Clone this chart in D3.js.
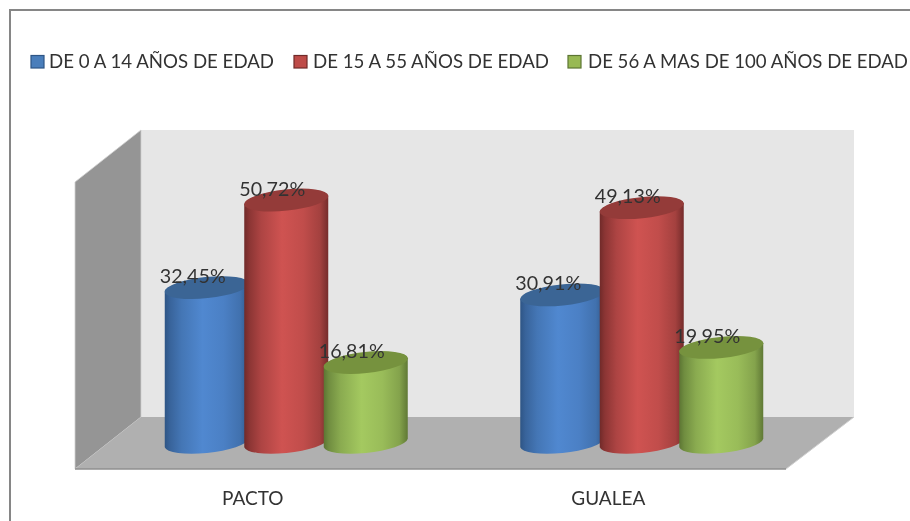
<!DOCTYPE html>
<html><head><meta charset="utf-8">
<script src="https://cdn.jsdelivr.net/npm/d3@7"></script>
<style>html,body{margin:0;padding:0;background:#fff}svg{display:block}text{font-family:Lato,"Open Sans",sans-serif;fill:#333;font-weight:400}</style>
</head><body><svg id="c" width="910" height="521"></svg>
<script>
const categories = ["PACTO", "GUALEA"];
const seriesNames = ["DE 0 A 14 AÑOS DE EDAD", "DE 15 A 55 AÑOS DE EDAD", "DE 56 A MAS DE 100 AÑOS DE EDAD"];
const pactoValues = [32.45, 50.72, 16.81];
const gualeaValues = [30.91, 49.13, 19.95];
const valueRows = [pactoValues, gualeaValues];
const edgeColors = ["#2e5585", "#702a29", "#5c7533"];
const midColors = ["#5088d0", "#cf5351", "#a4c960"];
const lidColors = ["#3b6595", "#943b39", "#76923e"];
const swatchColors = ["#4a7ebb", "#be4b48", "#98b954"];
const legendX = [31, 294, 568];
const legendTextX = [49, 313, 588];
const legendTextWidth = [225, 236, 320];

const svg = d3.select("#c");
const W = 910, H = 521;
const depthX = 66, depthY = 52;
const floorL = 75, floorR = 786, floorY = 469;
const baseY = 443, maxValue = 60;

const y = d3.scaleLinear().domain([0, maxValue]).range([baseY, baseY - 287.4]);
const xFront = d3.scaleBand().domain(categories).range([floorL, floorR]);
const xGroup = d3.scaleBand().domain(categories).range([floorL + depthX / 2 + 0.5, floorR + depthX / 2 + 0.5]);
const xBar = d3.scaleBand().domain(seriesNames).range([-119.25, 119.25]);

const defs = svg.append("defs");
defs.append("filter").attr("id", "soft").append("feGaussianBlur").attr("stdDeviation", 0.4);

// frame
svg.append("path").attr("d", `M10,${H + 2}V10H${W + 2}`).attr("fill", "none").attr("stroke", "#868686").attr("stroke-width", 2);

// walls and floor
const wallTop = floorY - depthY - 287;
svg.append("polygon").attr("fill", "#e6e6e6")
  .attr("points", [[floorL + depthX, wallTop], [floorR + depthX + 2, wallTop], [floorR + depthX + 2, floorY - depthY], [floorL + depthX, floorY - depthY]].join(" "));
svg.append("polygon").attr("fill", "#959595").attr("stroke", "#cfcfcf").attr("stroke-width", 0.8)
  .attr("points", [[floorL, floorY - 287], [floorL + depthX, wallTop], [floorL + depthX, floorY - depthY], [floorL, floorY]].join(" "));
svg.append("polygon").attr("fill", "#b0b0b0")
  .attr("points", [[floorL + depthX, floorY - depthY], [floorR + depthX + 2, floorY - depthY], [floorR, floorY], [floorL, floorY]].join(" "));
svg.append("line").attr("x1", floorL).attr("x2", floorR).attr("y1", floorY).attr("y2", floorY).attr("stroke", "#8f8f8f").attr("stroke-width", 1.6);
svg.append("line").attr("x1", floorR).attr("x2", floorR + depthX + 2).attr("y1", floorY).attr("y2", floorY - depthY).attr("stroke", "#d0d0d0").attr("stroke-width", 1);

// gradients: shading from the edge colour toward the mid colour and back
const shade = [[0, 1], [0.06, 0.72], [0.2, 0.36], [0.45, 0], [0.7, 0.15], [0.9, 0.45], [1, 0.95]];
seriesNames.forEach((s, i) => {
  const g = defs.append("linearGradient").attr("id", "g" + i);
  shade.forEach(([o, t]) => g.append("stop").attr("offset", o).attr("stop-color", d3.interpolateRgb(midColors[i], edgeColors[i])(t)));
});

// cylinders
const rx = 42.3, ry = 10.6, tilt = -6, half = 42, skew = 4.2;
const rows = categories.flatMap((c, ci) => seriesNames.map((s, si) => ({ c, s, si, v: valueRows[ci][si] })));
rows.forEach(d => {
  const cx = xGroup(d.c) + xGroup.bandwidth() / 2 + xBar(d.s) + xBar.bandwidth() / 2;
  const top = y(d.v);
  const g = svg.append("g");
  g.append("path").attr("fill", `url(#g${d.si})`)
    .attr("d", `M${cx - half},${top + skew}A${rx},${ry} ${tilt} 0 1 ${cx + half},${top - skew}V${baseY - skew}A${rx},${ry} ${tilt} 0 1 ${cx - half},${baseY + skew}Z`);
  g.append("ellipse").attr("cx", cx).attr("cy", top).attr("rx", rx).attr("ry", ry)
    .attr("transform", `rotate(${tilt} ${cx} ${top})`).attr("fill", lidColors[d.si]);
  d.cx = cx; d.top = top;
});

// value labels
rows.forEach(d => {
  svg.append("text").attr("x", d.cx - 14).attr("y", d.top - 4.5).attr("text-anchor", "middle")
    .attr("font-size", 20).attr("textLength", 66).attr("lengthAdjust", "spacingAndGlyphs")
    .attr("filter", "url(#soft)")
    .text(d3.format(".2f")(d.v).replace(".", ",") + "%");
});

// category axis
const axis = svg.append("g").attr("transform", `translate(0,${floorY})`)
  .call(d3.axisBottom(xFront).tickSize(0).tickPadding(22.5));
axis.select(".domain").remove();
axis.selectAll("text").attr("font-size", 19).attr("font-family", 'Lato,"Open Sans",sans-serif').attr("fill", "#333")
  .attr("filter", "url(#soft)");

// legend
seriesNames.forEach((s, i) => {
  svg.append("rect").attr("x", legendX[i]).attr("y", 55.5).attr("width", 13).attr("height", 12.5)
    .attr("fill", swatchColors[i]).attr("stroke", edgeColors[i]).attr("stroke-width", 1.2);
  svg.append("text").attr("x", legendTextX[i]).attr("y", 68).attr("font-size", 18.3)
    .attr("textLength", legendTextWidth[i]).attr("lengthAdjust", "spacingAndGlyphs")
    .attr("filter", "url(#soft)").text(s);
});
</script></body></html>
